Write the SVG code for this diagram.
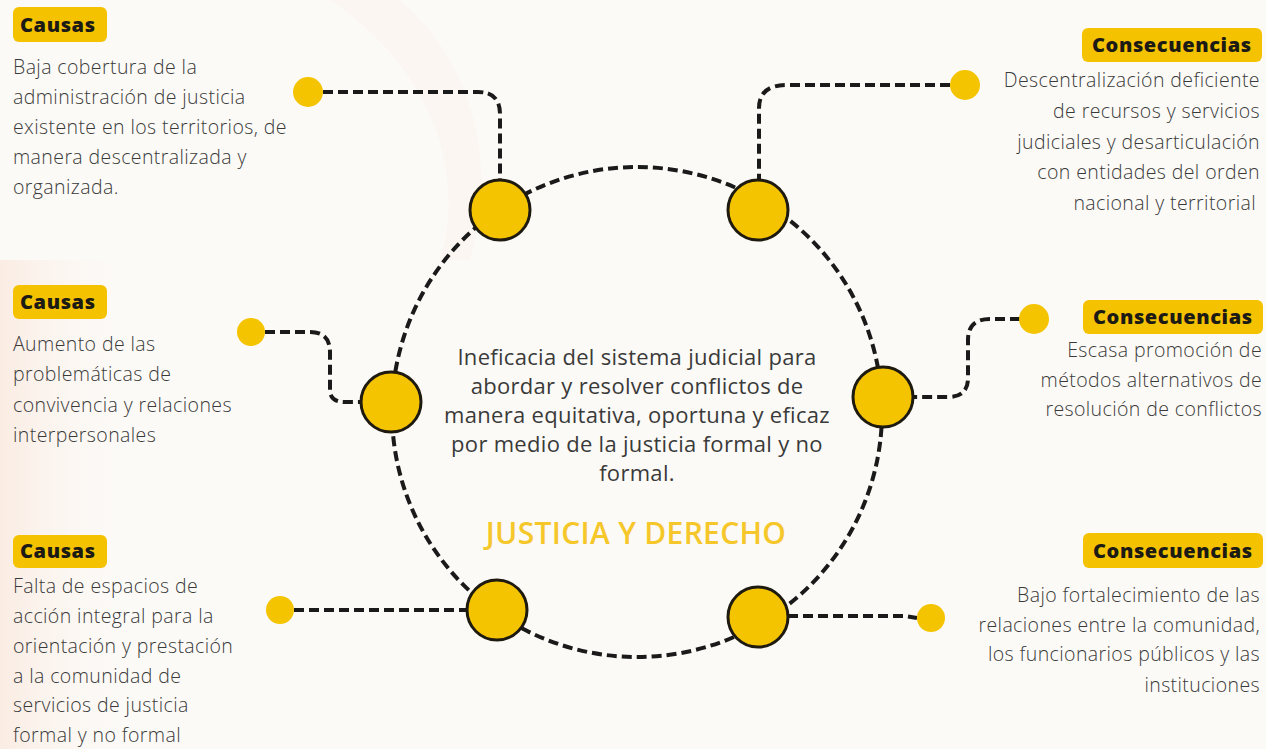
<svg xmlns="http://www.w3.org/2000/svg" width="1266" height="749" viewBox="0 0 1266 749">
<defs>
<style>
.pill{fill:#F5C200;}
.pt{font-family:"Open Sans","Liberation Sans",sans-serif;font-weight:800;font-size:20px;letter-spacing:0.6px;fill:#1c1a14;}
.body{font-family:"Open Sans","Liberation Sans",sans-serif;font-weight:300;font-size:19.5px;letter-spacing:0.4px;fill:#3a3a3a;}
.r{text-anchor:end;}
.c{text-anchor:middle;}
.ctr{font-family:"Open Sans","Liberation Sans",sans-serif;font-weight:400;font-size:22px;letter-spacing:0.3px;fill:#3a3a3a;}
.ttl{font-family:"Open Sans","Liberation Sans",sans-serif;font-weight:600;font-size:30px;letter-spacing:0.3px;fill:#F5C72A;}
.node{fill:#F5C400;stroke:#1e1a10;stroke-width:3;}
.dot{fill:#F5C400;}
.dash{fill:none;stroke:#1a1a1a;stroke-width:4;stroke-dasharray:10 5;}
</style>
<linearGradient id="bgL" x1="0" y1="0" x2="1" y2="0">
<stop offset="0" stop-color="#F9E6DA" stop-opacity="0.7"/>
<stop offset="1" stop-color="#FCFAF7" stop-opacity="0"/>
</linearGradient>
</defs>
<rect width="1266" height="749" fill="#FCFAF7"/>
<rect x="0" y="260" width="140" height="489" fill="url(#bgL)"/>
<path d="M330 0 C420 60 470 160 440 260 L470 260 C500 160 470 60 400 0 Z" fill="#F8EDE6" opacity="0.3"/>

<g id="connectors">
<circle class="dash" cx="637" cy="412" r="245"/>
<path class="dash" d="M323 92 H478 Q500 92 500 114 V180"/>
<path class="dash" d="M950 85 H787 Q759 85 759 108 V180"/>
<path class="dash" d="M265 332 H310 Q330 332 330 352 V390 Q330 402 345 402 H360"/>
<path class="dash" d="M1020 319 H990 Q968 319 968 340 V378 Q968 397 948 397 H913"/>
<path class="dash" d="M294 610 H467"/>
<path class="dash" d="M788 616 H905 L917 618"/>
</g>

<g id="center-node">
<text class="ctr c" x="637" y="365">Ineficacia del sistema judicial para</text>
<text class="ctr c" x="637" y="394">abordar y resolver conflictos de</text>
<text class="ctr c" x="637" y="423">manera equitativa, oportuna y eficaz</text>
<text class="ctr c" x="637" y="452">por medio de la justicia formal y no</text>
<text class="ctr c" x="637" y="481">formal.</text>
<text class="ttl c" x="636" y="544">JUSTICIA Y DERECHO</text>
</g>

<g id="ring-node-1"><circle class="node" cx="500" cy="210" r="30"/></g>
<g id="ring-node-2"><circle class="node" cx="758" cy="210" r="30"/></g>
<g id="ring-node-3"><circle class="node" cx="391" cy="402" r="30"/></g>
<g id="ring-node-4"><circle class="node" cx="883" cy="397" r="30"/></g>
<g id="ring-node-5"><circle class="node" cx="497" cy="610" r="30"/></g>
<g id="ring-node-6"><circle class="node" cx="758" cy="617" r="30"/></g>

<g id="causa-1">
<rect class="pill" x="13" y="7" width="94" height="35" rx="6"/>
<text class="pt" x="20" y="32">Causas</text>
<text class="body" x="13" y="74">Baja cobertura de la</text>
<text class="body" x="13" y="104">administración de justicia</text>
<text class="body" x="13" y="134">existente en los territorios, de</text>
<text class="body" x="13" y="164">manera descentralizada y</text>
<text class="body" x="13" y="194">organizada.</text>
<circle class="dot" cx="308" cy="92" r="15"/>
</g>

<g id="causa-2">
<rect class="pill" x="13" y="285" width="94" height="34" rx="6"/>
<text class="pt" x="20" y="309">Causas</text>
<text class="body" x="13" y="351">Aumento de las</text>
<text class="body" x="13" y="381">problemáticas de</text>
<text class="body" x="13" y="412">convivencia y relaciones</text>
<text class="body" x="13" y="442">interpersonales</text>
<circle class="dot" cx="251" cy="332" r="14"/>
</g>

<g id="causa-3">
<rect class="pill" x="13" y="535" width="94" height="33" rx="6"/>
<text class="pt" x="20" y="558">Causas</text>
<text class="body" x="13" y="593">Falta de espacios de</text>
<text class="body" x="13" y="623">acción integral para la</text>
<text class="body" x="13" y="653">orientación y prestación</text>
<text class="body" x="13" y="683">a la comunidad de</text>
<text class="body" x="13" y="712">servicios de justicia</text>
<text class="body" x="13" y="742">formal y no formal</text>
<circle class="dot" cx="280" cy="610" r="14"/>
</g>

<g id="consecuencia-1">
<rect class="pill" x="1082" y="28" width="180" height="34" rx="6"/>
<text class="pt" x="1092" y="52">Consecuencias</text>
<text class="body r" x="1260" y="87">Descentralización deficiente</text>
<text class="body r" x="1260" y="118">de recursos y servicios</text>
<text class="body r" x="1260" y="149">judiciales y desarticulación</text>
<text class="body r" x="1260" y="179">con entidades del orden</text>
<text class="body r" x="1256" y="210">nacional y territorial</text>
<circle class="dot" cx="965" cy="85" r="15"/>
</g>

<g id="consecuencia-2">
<rect class="pill" x="1083" y="300" width="180" height="34" rx="6"/>
<text class="pt" x="1093" y="324">Consecuencias</text>
<text class="body r" x="1262" y="357">Escasa promoción de</text>
<text class="body r" x="1262" y="387">métodos alternativos de</text>
<text class="body r" x="1262" y="416">resolución de conflictos</text>
<circle class="dot" cx="1034" cy="319" r="15"/>
</g>

<g id="consecuencia-3">
<rect class="pill" x="1083" y="533" width="180" height="35" rx="6"/>
<text class="pt" x="1093" y="558">Consecuencias</text>
<text class="body r" x="1260" y="602">Bajo fortalecimiento de las</text>
<text class="body r" x="1260" y="632">relaciones entre la comunidad,</text>
<text class="body r" x="1260" y="661">los funcionarios públicos y las</text>
<text class="body r" x="1260" y="692">instituciones</text>
<circle class="dot" cx="931" cy="618" r="14"/>
</g>
</svg>
